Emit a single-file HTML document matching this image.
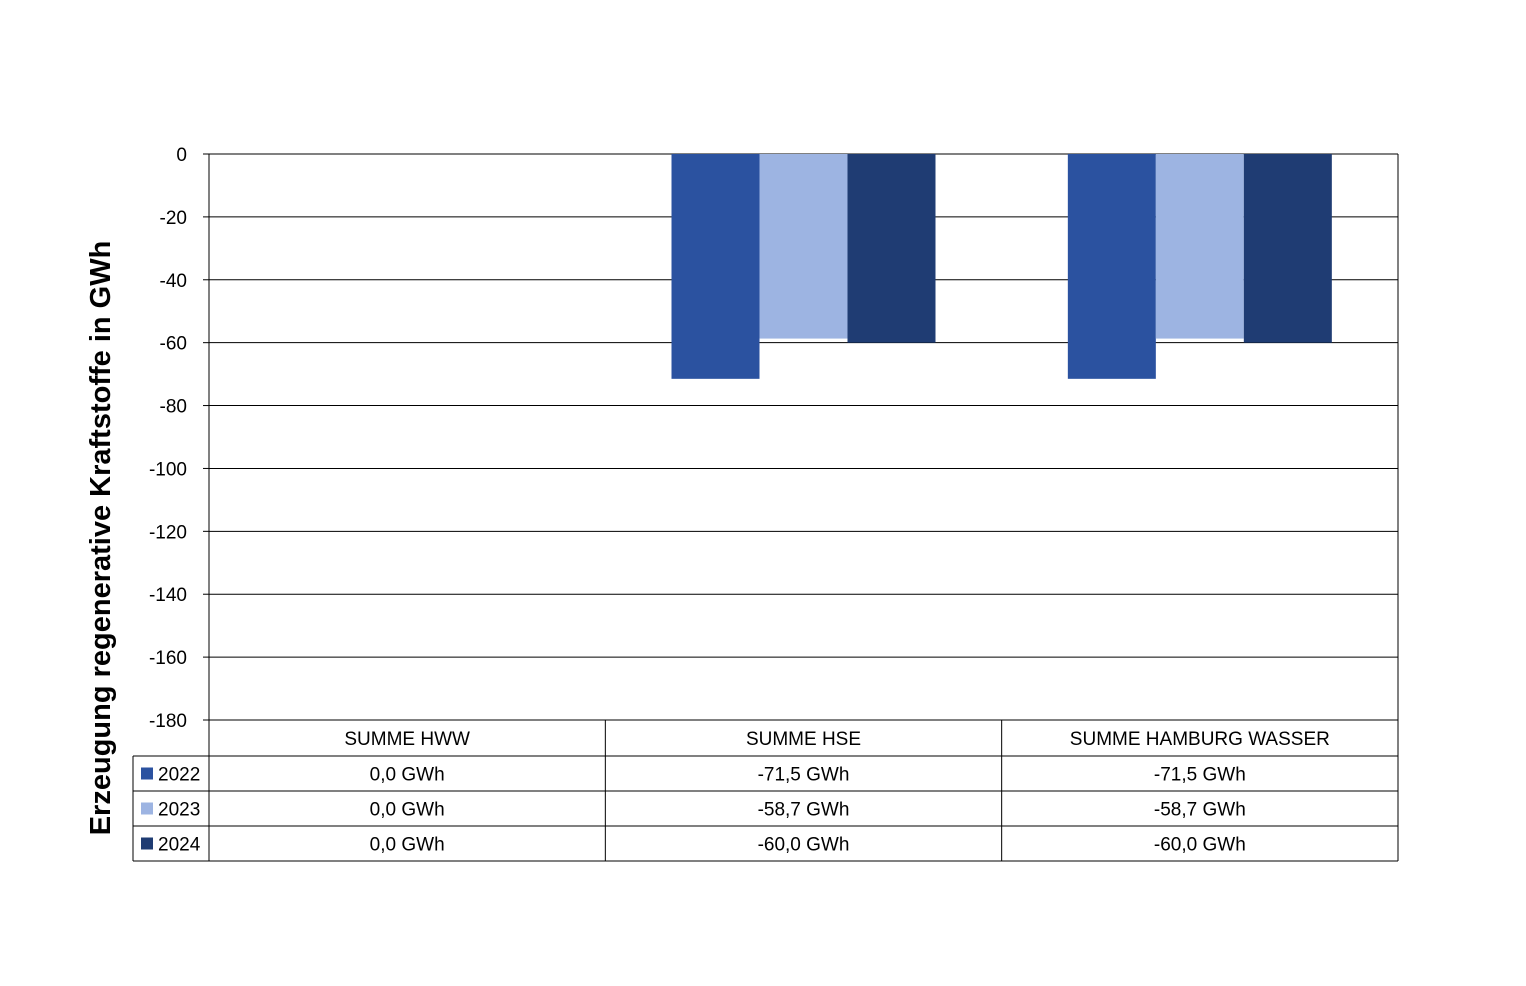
<!DOCTYPE html>
<html><head><meta charset="utf-8"><style>
body{margin:0;background:#fff;}
svg{display:block;font-family:"Liberation Sans",Carlito,sans-serif;}
</style></head><body>
<svg id="chart" width="1526" height="986" xmlns="http://www.w3.org/2000/svg"></svg>
<script>
const categories=["SUMME HWW","SUMME HSE","SUMME HAMBURG WASSER"];
const seriesNames=["2022","2023","2024"];
const values2022=[0,-71.5,-71.5];
const values2023=[0,-58.7,-58.7];
const values2024=[0,-60.0,-60.0];
const labels2022=["0,0 GWh","-71,5 GWh","-71,5 GWh"];
const labels2023=["0,0 GWh","-58,7 GWh","-58,7 GWh"];
const labels2024=["0,0 GWh","-60,0 GWh","-60,0 GWh"];
const yTicks=[0,-20,-40,-60,-80,-100,-120,-140,-160,-180];
const colors=["#2B52A0","#9DB4E2","#1F3C73"];
const series=[values2022,values2023,values2024];
const labels=[labels2022,labels2023,labels2024];

const NS="http://www.w3.org/2000/svg";
const svg=document.getElementById('chart');
const L=209,R=1398,T=154,B=720;
const yMin=-180,yMax=0;
const y=v=>T+(yMax-v)/(yMax-yMin)*(B-T);
const catW=(R-L)/categories.length;
const xc=i=>L+catW*(i+0.5);
const barW=88;
function el(tag,attrs,parent){const e=document.createElementNS(NS,tag);for(const k in attrs)e.setAttribute(k,attrs[k]);(parent||svg).appendChild(e);return e;}

const grid=el('g',{});


yTicks.forEach(t=>{
  const ln=el('line',{x1:L,x2:R,y1:y(t),y2:y(t),stroke:'#000','stroke-width':1},grid);
  
  
  const tk=el('line',{x1:L-6,x2:L,y1:y(t),y2:y(t),stroke:'#000'},grid);
  
  
  const tx=el('text',{x:187,y:y(t)+7,'text-anchor':'end','font-size':19},grid);
  tx.textContent=String(t);
  
  
});
el('line',{x1:L,x2:L,y1:T,y2:B,stroke:'#000'});
el('line',{x1:R,x2:R,y1:T,y2:B,stroke:'#000'});

series.forEach((s,si)=>{
  s.forEach((v,ci)=>{
    const x0=xc(ci)-barW*1.5+si*barW;
    const r=el('rect',{x:x0,y:y(Math.max(0,v)),width:barW,height:Math.abs(y(v)-y(0)),fill:colors[si]});
    
    
  });
});

// data table
const rows=[720,756,791,826,861];
const tbl=el('g',{});


el('line',{x1:L,x2:R,y1:720,y2:720,stroke:'#000'},tbl);
for(let r=1;r<rows.length;r++) el('line',{x1:133,x2:R,y1:rows[r],y2:rows[r],stroke:'#000'},tbl);
for(let c=0;c<=categories.length;c++){const x=L+catW*c;el('line',{x1:x,x2:x,y1:720,y2:861,stroke:'#000'},tbl);}
el('line',{x1:133,x2:133,y1:756,y2:861,stroke:'#000'},tbl);
categories.forEach((c,i)=>{
  const t=el('text',{x:xc(i),y:745,'text-anchor':'middle','font-size':19},tbl);
  t.textContent=c;
  
  
});
seriesNames.forEach((n,si)=>{
  const cy=(rows[si+1]+rows[si+2])/2;
  const sw=el('rect',{x:141,y:cy-6,width:12,height:12,fill:colors[si]},tbl);
  
  
  const lt=el('text',{x:158,y:cy+7,'font-size':19},tbl);
  lt.textContent=n;
  
  
  labels[si].forEach((lab,ci)=>{
    const t=el('text',{x:xc(ci),y:cy+7,'text-anchor':'middle','font-size':19},tbl);
    t.textContent=lab;
    
    
  });
});

const yt=el('text',{x:0,y:0,'text-anchor':'middle','font-size':29,'font-weight':'bold',transform:'translate(110,538) rotate(-90)'});
yt.textContent='Erzeugung regenerative Kraftstoffe in GWh';


</script>
</body></html>
